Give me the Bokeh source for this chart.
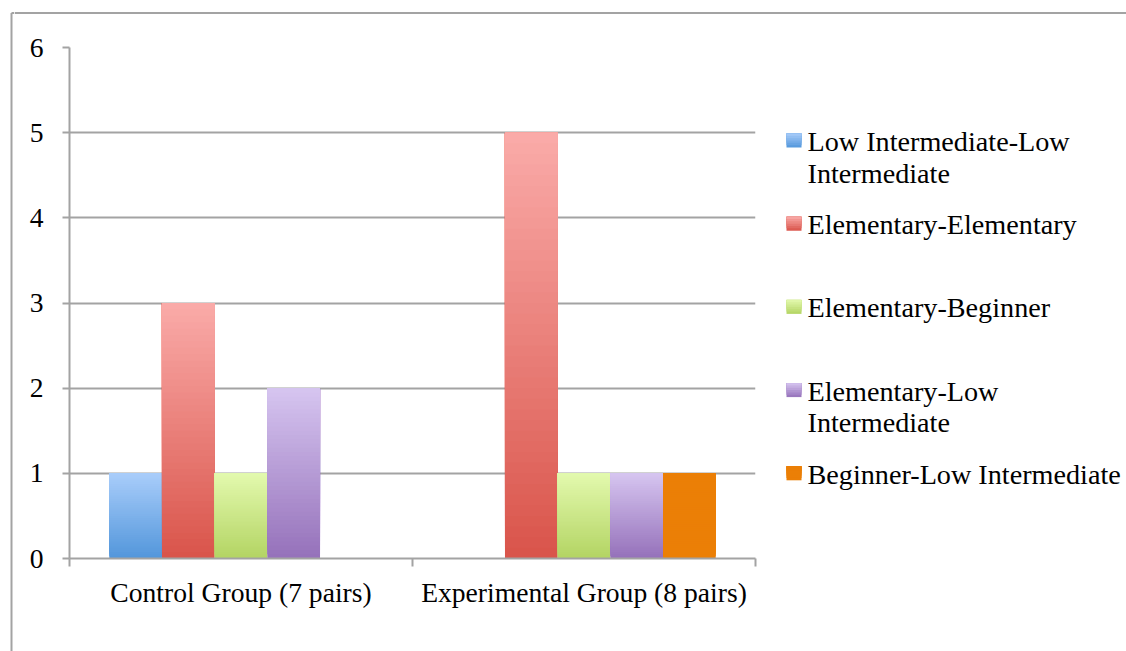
from bokeh.plotting import figure
from bokeh.layouts import row, column
from bokeh.models import ColumnDataSource, Range1d, FixedTicker
from bokeh.core.properties import value
from bokeh.embed import file_html
from bokeh.resources import INLINE

# ---- data -------------------------------------------------------------
groups = ["Control Group (7 pairs)", "Experimental Group (8 pairs)"]
series = [
    "Low Intermediate-Low Intermediate",
    "Elementary-Elementary",
    "Elementary-Beginner",
    "Elementary-Low Intermediate",
    "Beginner-Low Intermediate",
]
control_counts = [1, 3, 1, 2, 0]
experimental_counts = [0, 5, 1, 1, 1]
y_ticks = [0, 1, 2, 3, 4, 5, 6]

# ---- style ------------------------------------------------------------
top_colors = ["#a9cdfa", "#faaba9", "#e3f9ae", "#d6c5f0", "#eb7f06"]
bottom_colors = ["#5296db", "#d9544a", "#b3d463", "#9571ba", "#eb7f06"]
FONT = "Liberation Serif"
FS = "27.6px"
LEG_FS = "28.2px"
GRAY = "#a3a3a3"
BAR_W = 0.1536          # width of one bar, in group units
STEPS = 40              # strips used to shade each bar

W, H = 1126, 651
EDGE = 14               # strips holding the chart-area frame line
MAIN_W = 746
LEG_W = W - EDGE - MAIN_W
BODY_H = H - EDGE
PAD_TOP, PAD_BOTTOM = 47 - EDGE, 93


def hex_rgb(h):
    h = h.lstrip("#")
    return tuple(int(h[i:i + 2], 16) for i in (0, 2, 4))


def mix(c_top, c_bottom, t):
    """t = 0 at the bottom of a bar, 1 at its top."""
    a, b = hex_rgb(c_bottom), hex_rgb(c_top)
    return "#%02x%02x%02x" % tuple(round(a[i] + (b[i] - a[i]) * t) for i in range(3))


def blank(width, height, x_range, y_range, **kw):
    f = figure(width=width, height=height, x_range=x_range, y_range=y_range,
               x_axis_location=None, y_axis_location=None,
               output_backend="svg", toolbar_location=None, min_border=0, **kw)
    f.grid.visible = False
    f.outline_line_color = None
    f.background_fill_color = "white"
    f.border_fill_color = "white"
    return f


# ---- chart-area frame line (left edge and top edge) --------------------
left_strip = blank(EDGE, H, Range1d(0, EDGE), Range1d(H, 0))
left_strip.line(x=[11, 11], y=[12.5, H], line_color=GRAY, line_width=2)
left_strip.line(x=[11, EDGE], y=[12.5, 12.5], line_color=GRAY, line_width=2)
top_strip = blank(W - EDGE, EDGE, Range1d(EDGE, W), Range1d(EDGE, 0))
top_strip.line(x=[EDGE, W], y=[12.5, 12.5], line_color=GRAY, line_width=2)

# ---- shaded bars --------------------------------------------------------
# each bar is a stack of overlapping strips, every strip running from its
# own start up to the bar top so no seams show
strips = dict(left=[], right=[], bottom=[], top=[], color=[])
for g, counts in enumerate([control_counts, experimental_counts]):
    center = g + 0.5
    for i, v in enumerate(counts):
        if v <= 0:
            continue
        x0 = center + (i - 2.5) * BAR_W
        x1 = x0 + BAR_W
        for k in range(STEPS):
            strips["left"].append(x0)
            strips["right"].append(x1)
            strips["bottom"].append(v * k / STEPS)
            strips["top"].append(v)
            strips["color"].append(mix(top_colors[i], bottom_colors[i], (k + 0.5) / STEPS))

p = figure(
    width=MAIN_W, height=BODY_H,
    x_range=Range1d(0, len(groups)), y_range=Range1d(0, 6),
    output_backend="svg", toolbar_location=None,
    min_border_left=69 - EDGE, min_border_right=5,
    min_border_top=PAD_TOP, min_border_bottom=PAD_BOTTOM,
)
p.outline_line_color = None
p.background_fill_color = "white"
p.border_fill_color = "white"

p.quad(left="left", right="right", bottom="bottom", top="top",
       fill_color="color", line_color=None, source=ColumnDataSource(strips))

# y axis / grid
p.yaxis.ticker = FixedTicker(ticks=y_ticks)
p.yaxis.minor_tick_line_color = None
p.yaxis.major_tick_in = 0
p.yaxis.major_tick_out = 7
p.yaxis.major_tick_line_color = GRAY
p.yaxis.major_tick_line_width = 2
p.yaxis.axis_line_color = GRAY
p.yaxis.axis_line_width = 2
p.yaxis.major_label_standoff = 19
p.ygrid.ticker = FixedTicker(ticks=y_ticks)
p.ygrid.grid_line_color = GRAY
p.ygrid.grid_line_width = 2
p.xgrid.grid_line_color = None

# x axis: tick marks at group boundaries, labels at group centres
p.xaxis.ticker = FixedTicker(ticks=[g + 0.5 for g in range(len(groups))],
                             minor_ticks=list(range(len(groups) + 1)))
p.xaxis.major_label_overrides = {g + 0.5: name for g, name in enumerate(groups)}
p.xaxis.major_tick_line_color = None
p.xaxis.major_tick_in = 0
p.xaxis.major_tick_out = 8
p.xaxis.minor_tick_in = 0
p.xaxis.minor_tick_out = 8
p.xaxis.minor_tick_line_color = GRAY
p.xaxis.minor_tick_line_width = 2
p.xaxis.axis_line_color = GRAY
p.xaxis.axis_line_width = 2
p.xaxis.major_label_standoff = 10

for ax in (p.xaxis[0], p.yaxis[0]):
    ax.major_label_text_font = FONT
    ax.major_label_text_font_size = FS
    ax.major_label_text_color = "black"

# ---- legend: frame shares the plot's top/bottom, data = page pixels ----
x0_leg = W - LEG_W
leg = blank(LEG_W, BODY_H, Range1d(x0_leg, W), Range1d(H - PAD_BOTTOM, EDGE + PAD_TOP),
            min_border_top=PAD_TOP, min_border_bottom=PAD_BOTTOM)


def wrap(name, limit=25):
    if len(name) <= limit:
        return [name]
    head, tail = name.rsplit(" ", 1)
    return [head, tail]


SW_X = 786           # swatch left
TXT_X = 807          # text left
FIRST_TOP = 133      # top of the first swatch
PITCH = 83.2
LINE_H = 31.5
TXT_DY = 8           # swatch top -> anchor of the first text line
SW = 15
SW_H = 14
SW_STEPS = 6

sw = dict(left=[], right=[], top=[], bottom=[], color=[])
txt = dict(x=[], y=[], text=[])
for i, name in enumerate(series):
    sw_top = FIRST_TOP + i * PITCH
    sw_bot = sw_top + SW_H
    for k in range(SW_STEPS):
        sw["left"].append(SW_X)
        sw["right"].append(SW_X + SW)
        sw["top"].append(sw_top)
        sw["bottom"].append(sw_bot - SW_H * k / SW_STEPS)
        sw["color"].append(mix(top_colors[i], bottom_colors[i], (k + 0.5) / SW_STEPS))
    for j, line in enumerate(wrap(name)):
        txt["x"].append(TXT_X)
        txt["y"].append(sw_top + TXT_DY + j * LINE_H)
        txt["text"].append(line)

leg.quad(left="left", right="right", top="top", bottom="bottom",
         fill_color="color", line_color=None, source=ColumnDataSource(sw))
leg.text(x="x", y="y", text="text", source=ColumnDataSource(txt),
         text_font=value(FONT), text_font_size=value(LEG_FS),
         text_color="black", text_baseline="alphabetic", text_align="left")

layout = row(left_strip, column(top_strip, row(p, leg)))
open("out.html", "w").write(file_html(layout, INLINE))
